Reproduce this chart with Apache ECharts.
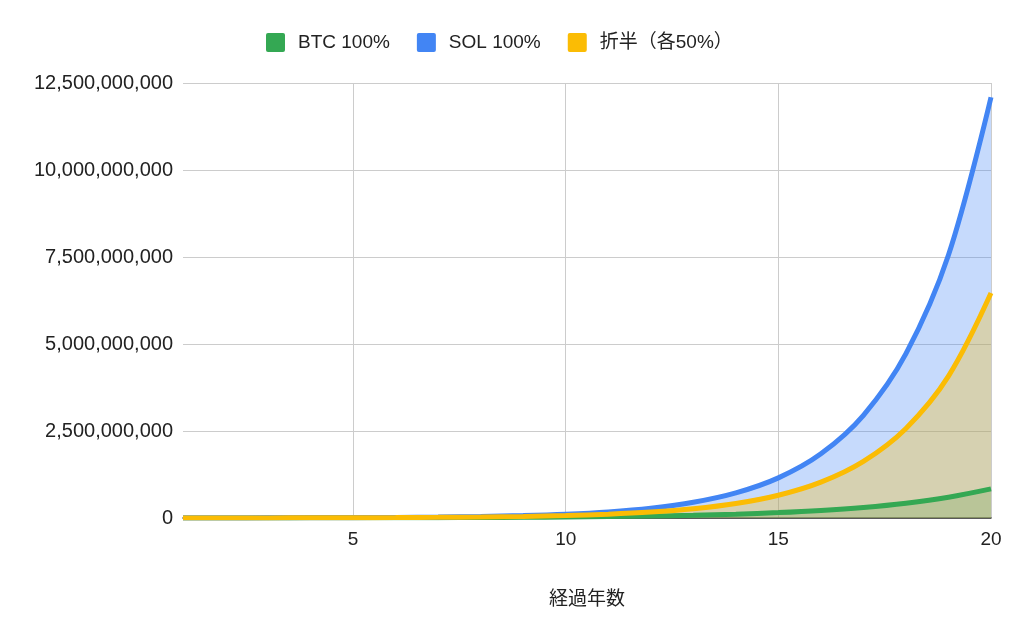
<!DOCTYPE html>
<html>
<head>
<meta charset="utf-8">
<script src="https://cdn.jsdelivr.net/npm/echarts@6/dist/echarts.min.js"></script>
<style>
html,body{margin:0;padding:0;background:#fff;}
#chart{width:1024px;height:632px;}
</style>
</head>
<body>
<div id="chart"></div>
<script>
const years = ['1','2','3','4','5','6','7','8','9','10','11','12','13','14','15','16','17','18','19','20'];
const seriesNames = ['BTC 100%', 'SOL 100%', '折半（各50%）'];
const btc = [1400000, 1960000, 2744000, 3842000, 5378000, 7530000, 10541000, 14758000, 20661000, 28925000,
  40496000, 56694000, 79371000, 111120000, 155570000, 217800000, 304910000, 426880000, 597630000, 836680000];
const sol = [1600000, 2560000, 4096000, 6554000, 10486000, 16777000, 26844000, 42950000, 68719000, 109950000,
  175920000, 281470000, 450360000, 720580000, 1152900000, 1844700000, 2951500000, 4722400000, 7555800000, 12089300000];
const half = [1500000, 2260000, 3420000, 5198000, 7932000, 12153000, 18693000, 28854000, 44690000, 69440000,
  108210000, 169080000, 264870000, 415850000, 654240000, 1031250000, 1628200000, 2574600000, 4076700000, 6463000000];
const yTicks = [0, 2500000000, 5000000000, 7500000000, 10000000000, 12500000000];
const xAxisTitle = '経過年数';

const FONT = "Arial, 'Liberation Sans', 'Noto Sans CJK JP', sans-serif";
const colors = ['#34a853', '#4285f4', '#fbbc04'];
const ICON = 'path://M2,0 H17 A2,2 0 0 1 19,2 V17 A2,2 0 0 1 17,19 H2 A2,2 0 0 1 0,17 V2 A2,2 0 0 1 2,0 Z';

const chart = echarts.init(document.getElementById('chart'));
function area(name, data, color) {
  return {
    name: name, type: 'line', data: data, smooth: 0.35, symbol: 'none', z: 1,
    lineStyle: { width: 0, color: color }, itemStyle: { color: color },
    areaStyle: { color: color, opacity: 0.3 }
  };
}
function line(name, data, color) {
  return {
    name: name, type: 'line', data: data, smooth: 0.35, symbol: 'none', z: 3,
    lineStyle: { color: color, width: 5 }, itemStyle: { color: color }
  };
}
chart.setOption({
  animation: false,
  color: colors,
  textStyle: { fontFamily: FONT },
  legend: {
    left: 261, top: 28,
    itemWidth: 19, itemHeight: 19, itemGap: 27,
    icon: ICON,
    data: seriesNames,
    textStyle: { fontSize: 19, color: '#222', fontFamily: FONT, padding: [0, 0, 0, 8] }
  },
  grid: { left: 183, right: 33, top: 83, bottom: 114, containLabel: false },
  xAxis: {
    type: 'category', data: years, boundaryGap: false,
    name: xAxisTitle, nameLocation: 'middle', nameGap: 72,
    nameTextStyle: { fontSize: 19, color: '#222', fontFamily: FONT },
    axisLine: { show: true, lineStyle: { color: '#333', width: 1.5 } },
    axisTick: { show: false },
    axisLabel: {
      interval: function (i, v) { return Number(v) % 5 === 0; },
      fontSize: 19, color: '#222', margin: 12, fontFamily: FONT
    },
    splitLine: {
      show: true,
      interval: function (i, v) { return Number(v) % 5 === 0; },
      lineStyle: { color: '#cccccc', width: 1 }
    }
  },
  yAxis: {
    type: 'value', min: yTicks[0], max: yTicks[yTicks.length - 1], interval: yTicks[1] - yTicks[0],
    axisLine: { show: false }, axisTick: { show: false },
    axisLabel: {
      fontSize: 20, color: '#222', margin: 10, fontFamily: FONT,
      formatter: function (v) { return Number(v).toLocaleString('en-US'); }
    },
    splitLine: { lineStyle: { color: '#cccccc', width: 1 } }
  },
  series: [
    area(seriesNames[0], btc, colors[0]),
    area(seriesNames[1], sol, colors[1]),
    area(seriesNames[2], half, colors[2]),
    line(seriesNames[0], btc, colors[0]),
    line(seriesNames[1], sol, colors[1]),
    line(seriesNames[2], half, colors[2])
  ]
});
</script>
</body>
</html>
